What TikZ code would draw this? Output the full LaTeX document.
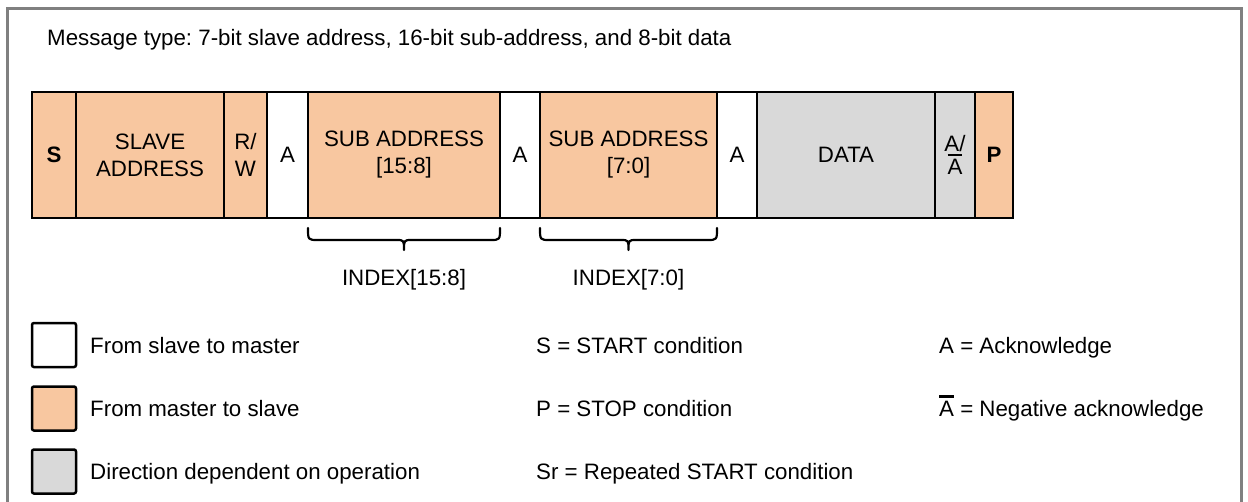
\documentclass[tikz,border=0pt]{standalone}
\usepackage{fontspec}
\setmainfont{Liberation Sans}
\frenchspacing
\definecolor{org}{RGB}{248,199,160}
\definecolor{dgray}{RGB}{217,217,217}
\definecolor{framegray}{RGB}{128,128,128}
\newcommand\ovA{\leavevmode\rlap{\rule[\dimexpr0.716em+2.5pt\relax]{0.667em}{2.2pt}}A}
\tikzset{
  cell/.style={draw=black, line width=2.5pt, rectangle, inner sep=0pt, minimum height=126pt, align=center},
  legbox/.style={draw=black, line width=2.5pt, rounded corners=2pt, rectangle, minimum width=44pt, minimum height=44pt, inner sep=0pt},
  lbl/.style={anchor=base west, inner sep=0pt},
  clbl/.style={anchor=base, inner sep=0pt},
  bracel/.style={draw=black, line width=2.2pt, line cap=round, line join=round}
}
\newcommand\bracebelow[3]{% #1 x left, #2 x right, #3 name
  \pgfmathsetmacro\xm{(#1+#2)/2}
  \coordinate (#3l) at (#1,228);
  \coordinate (#3r) at (#2,228);
  \coordinate (#3t) at (\xm,250);
  \draw[bracel] (#3l) .. controls (#1,240) .. (#1+10,240) -- (\xm-8,240)
     .. controls (\xm,240) .. (#3t) .. controls (\xm,240) .. (\xm+8,240)
     -- (#2-10,240) .. controls (#2,240) .. (#3r);
}
\begin{document}
\begin{tikzpicture}[x=1pt, y=-1pt, font=\fontsize{22.3}{27}\selectfont]
\useasboundingbox (0,0) rectangle (1248,501);
\fill[white] (0,0) rectangle (1248,501);
\draw[framegray, line width=3pt] (7.5,503) -- (7.5,8) -- (1241.5,8) -- (1241.5,503);

\node[lbl] (title) at (47,45) {Message type: 7-bit slave address, 16-bit sub-address, and 8-bit data};

% message row
\node[cell, fill=org, minimum width=44pt] (s) at (54,155) {\textbf{S}};
\node[cell, fill=org, minimum width=148pt] (sla) at (150,155) {SLAVE\\ADDRESS};
\node[cell, fill=org, minimum width=43pt] (rw) at (245.5,155) {R/\\W};
\node[cell, fill=white, minimum width=41pt] (a1) at (287.5,155) {A};
\node[cell, fill=org, minimum width=192pt] (sub1) at (404,155) {SUB ADDRESS\\{}[15:8]};
\node[cell, fill=white, minimum width=40pt] (a2) at (520,155) {A};
\node[cell, fill=org, minimum width=177pt] (sub2) at (628.5,155) {SUB ADDRESS\\{}[7:0]};
\node[cell, fill=white, minimum width=40pt] (a3) at (737,155) {A};
\node[cell, fill=dgray, minimum width=178pt] (data) at (846,155) {DATA};
\node[cell, fill=dgray, minimum width=40pt] (an) at (955,155) {A/\\[-4pt]\ovA};
\node[cell, fill=org, minimum width=38pt] (p) at (994,155) {\textbf{P}};

% braces
\bracebelow{308}{500}{b1}
\bracebelow{540}{717}{b2}
\node[clbl] (idx1) at (404,285) {INDEX[15:8]};
\node[clbl] (idx2) at (628.5,285) {INDEX[7:0]};

% legend
\node[legbox, fill=white] (lw) at (54,345) {};
\node[legbox, fill=org] (lo) at (54,408.5) {};
\node[legbox, fill=dgray] (lg) at (54,471.5) {};
\node[lbl] (tw) at (90,353) {From slave to master};
\node[lbl] (to) at (90,416) {From master to slave};
\node[lbl] (tg) at (90,479) {Direction dependent on operation};

\node[lbl] (ls) at (536,353) {S = START condition};
\node[lbl] (lp) at (536,416) {P = STOP condition};
\node[lbl] (lsr) at (536,479) {Sr = Repeated START condition};

\node[lbl] (la) at (939,353) {A = Acknowledge};
\node[lbl] (lna) at (939,416) {\ovA{} = Negative acknowledge};
\end{tikzpicture}
\end{document}
